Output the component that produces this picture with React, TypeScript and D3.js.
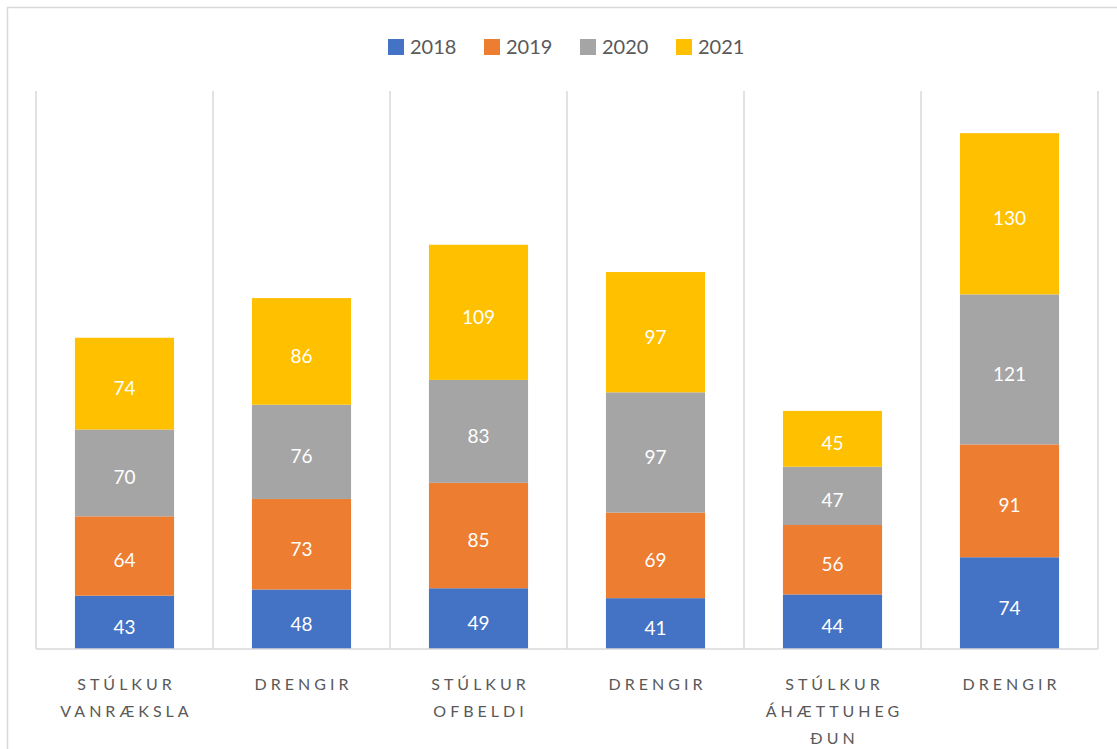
import { useEffect, useRef } from 'react';
import * as d3 from 'd3';

const categories = ['Stúlkur vanræksla', 'Drengir', 'Stúlkur ofbeldi', 'Drengir', 'Stúlkur áhættuhegðun', 'Drengir'];
const categoryLines = [
  ['STÚLKUR', 'VANRÆKSLA'],
  ['DRENGIR'],
  ['STÚLKUR', 'OFBELDI'],
  ['DRENGIR'],
  ['STÚLKUR', 'ÁHÆTTUHEG', 'ÐUN'],
  ['DRENGIR'],
];
const years = ['2018', '2019', '2020', '2021'];
const v2018 = [43, 48, 49, 41, 44, 74];
const v2019 = [64, 73, 85, 69, 56, 91];
const v2020 = [70, 76, 83, 97, 47, 121];
const v2021 = [74, 86, 109, 97, 45, 130];
const colors = ['#4472C4', '#ED7D31', '#A5A5A5', '#FFC000'];

const App = () => {
  const ref = useRef<SVGSVGElement>(null);

  useEffect(() => {
    const svg = d3.select(ref.current);
    svg.selectAll('*').remove();

    const W = 1117;
    const H = 749;
    const margin = { top: 91, right: 19, bottom: 100, left: 36 };
    const font = 'Lato, "Open Sans", sans-serif';

    svg.append('rect')
      .attr('x', 7.5).attr('y', 7.5)
      .attr('width', W + 10).attr('height', H + 10)
      .attr('fill', '#fff').attr('stroke', '#d9d9d9').attr('stroke-width', 1.5);

    const idx = categories.map((_, i) => i);
    const rows = idx.map(i => ({ i, '2018': v2018[i], '2019': v2019[i], '2020': v2020[i], '2021': v2021[i] }));
    const stack = d3.stack<any>().keys(years)(rows);

    const x = d3.scaleBand<number>()
      .domain(idx)
      .range([margin.left, W - margin.right])
      .paddingInner(0)
      .paddingOuter(0);
    const barW = x.bandwidth() * 0.56;

    const y = d3.scaleLinear().domain([0, 450]).range([H - margin.bottom, margin.top]);

    // vertical gridlines between categories
    const edges = [...idx.map(i => x(i)!), W - margin.right];
    svg.append('g').selectAll('line').data(edges).enter().append('line')
      .attr('x1', d => d).attr('x2', d => d)
      .attr('y1', y(450)).attr('y2', y(0))
      .attr('stroke', '#d9d9d9').attr('stroke-width', 1.5);

    const layers = svg.append('g').selectAll('g').data(stack).enter().append('g')
      .attr('fill', (_, k) => colors[k]);

    layers.selectAll('rect').data(d => d).enter().append('rect')
      .attr('x', d => x(d.data.i)! + (x.bandwidth() - barW) / 2)
      .attr('y', d => y(d[1]))
      .attr('width', barW)
      .attr('height', d => y(d[0]) - y(d[1]));

    layers.selectAll('text').data(d => d).enter().append('text')
      .attr('x', d => x(d.data.i)! + x.bandwidth() / 2)
      .attr('y', d => (y(d[0]) + y(d[1])) / 2)
      .attr('dy', '0.6em')
      .attr('text-anchor', 'middle')
      .attr('fill', '#fff')
      .style('font-family', font)
      .style('font-size', '19px')
      .text(d => d[1] - d[0]);

    // x axis line
    svg.append('line')
      .attr('x1', margin.left).attr('x2', W - margin.right)
      .attr('y1', y(0)).attr('y2', y(0))
      .attr('stroke', '#d9d9d9').attr('stroke-width', 1.5);

    // category labels
    const lab = svg.append('g').selectAll('text').data(idx).enter().append('text')
      .attr('text-anchor', 'middle')
      .attr('fill', '#595959')
      .style('font-family', font)
      .style('font-size', '16px')
      .style('letter-spacing', '4px');
    lab.selectAll('tspan').data(i => categoryLines[i].map(t => ({ t, i }))).enter().append('tspan')
      .attr('x', d => x(d.i)! + x.bandwidth() / 2 + 2)
      .attr('y', (_, j) => 690 + j * 27)
      .text(d => d.t);

    // legend
    const leg = svg.append('g').selectAll('g').data(years).enter().append('g')
      .attr('transform', (_, k) => `translate(${388 + k * 96},39)`);
    leg.append('rect').attr('width', 16).attr('height', 16).attr('fill', (_, k) => colors[k]);
    leg.append('text')
      .attr('x', 22).attr('y', 8).attr('dy', '0.36em')
      .attr('fill', '#595959')
      .style('font-family', font)
      .style('font-size', '20px')
      .text(d => d);
  }, []);

  return (
    <svg ref={ref} width={1117} height={749} style={{ position: 'absolute', left: 0, top: 0 }} />
  );
};

export default App;
